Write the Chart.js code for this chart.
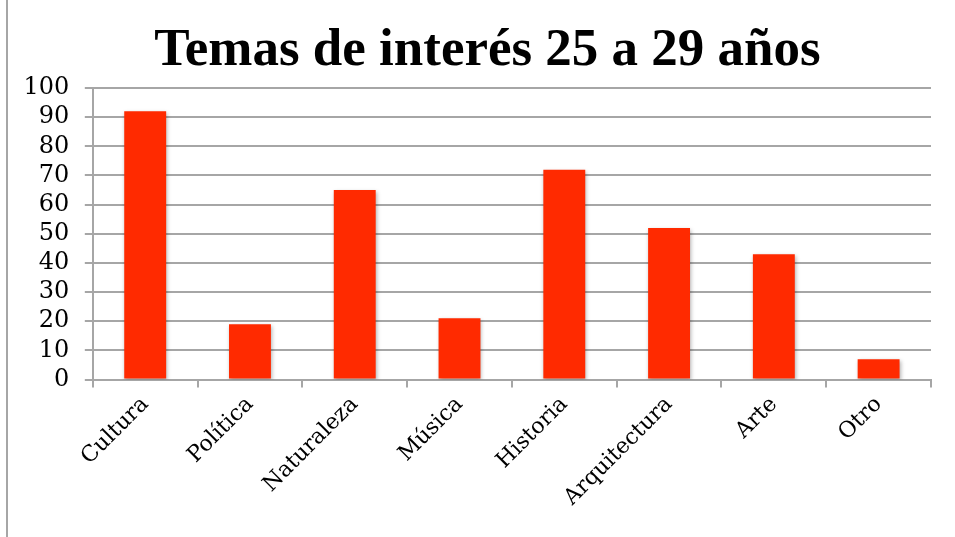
<!DOCTYPE html>
<html lang="es">
<head>
    <meta charset="UTF-8">
    <title>Temas de interés 25 a 29 años</title>
    <script src="https://cdn.jsdelivr.net/npm/chart.js"></script>
    <style>
        html, body { margin: 0; padding: 0; background: #fff; overflow: hidden; }
        #wrap { position: absolute; left: 6px; top: 0; width: 949px; height: 537px; border-left: 2px solid #a6a6a6; overflow: hidden; }
    </style>
</head>
<body>
    <div id="wrap"><canvas id="grafico" width="947" height="537"></canvas></div>

    <script>
        // Datos del gráfico
        const titulo = 'Temas de interés 25 a 29 años';
        const categorias = ['Cultura', 'Política', 'Naturaleza', 'Música', 'Historia', 'Arquitectura', 'Arte', 'Otro'];
        const valores = [92, 19, 65, 21, 72, 52, 43, 7];
        const ticksY = [0, 10, 20, 30, 40, 50, 60, 70, 80, 90, 100];

        const serif = '"DejaVu Serif", "Liberation Serif", serif';
        const gris = '#a6a6a6';

        // sombra suave bajo las barras
        const sombra = {
            id: 'sombra',
            beforeDatasetsDraw(chart) {
                const ctx = chart.ctx;
                ctx.save();
                ctx.shadowColor = 'rgba(0,0,0,0.3)';
                ctx.shadowBlur = 4;
                ctx.shadowOffsetX = 1;
                ctx.shadowOffsetY = 2;
            },
            afterDatasetsDraw(chart) {
                chart.ctx.restore();
            }
        };

        // el título de Excel está centrado sobre todo el objeto gráfico (más ancho que la captura)
        const tituloGrafico = {
            id: 'tituloGrafico',
            afterDraw(chart) {
                const ctx = chart.ctx;
                ctx.save();
                ctx.fillStyle = '#000';
                ctx.font = 'bold 53px "Liberation Serif", serif';
                ctx.textAlign = 'center';
                ctx.textBaseline = 'middle';
                ctx.fillText(titulo, chart.width / 2 + 6, 51);
                ctx.restore();
            }
        };

        new Chart(document.getElementById('grafico'), {
            type: 'bar',
            data: {
                labels: categorias,
                datasets: [{
                    data: valores,
                    backgroundColor: '#ff2a00',
                    borderWidth: 0,
                    categoryPercentage: 1.0,
                    barPercentage: 0.4
                }]
            },
            options: {
                responsive: false,
                animation: false,
                layout: { padding: { left: 0, right: 24, top: 88, bottom: 22 } },
                plugins: {
                    legend: { display: false },
                    tooltip: { enabled: false },
                    title: { display: false }
                },
                scales: {
                    x: {
                        grid: { display: true, drawOnChartArea: false, drawTicks: true, tickLength: 8, color: gris, lineWidth: 2, offset: true },
                        border: { color: gris, width: 2 },
                        ticks: {
                            color: '#000',
                            font: { family: serif, size: 22 },
                            minRotation: 45,
                            maxRotation: 45,
                            padding: 4
                        }
                    },
                    y: {
                        min: 0,
                        max: 100,
                        afterBuildTicks(axis) { axis.ticks = ticksY.map(v => ({ value: v })); },
                        grid: { color: gris, lineWidth: 2, drawTicks: true, tickLength: 8 },
                        border: { color: gris, width: 2 },
                        ticks: {
                            color: '#000',
                            autoSkip: false,
                            font: { family: serif, size: 24 },
                            padding: 15.5
                        }
                    }
                }
            },
            plugins: [sombra, tituloGrafico]
        });
    </script>
</body>
</html>
